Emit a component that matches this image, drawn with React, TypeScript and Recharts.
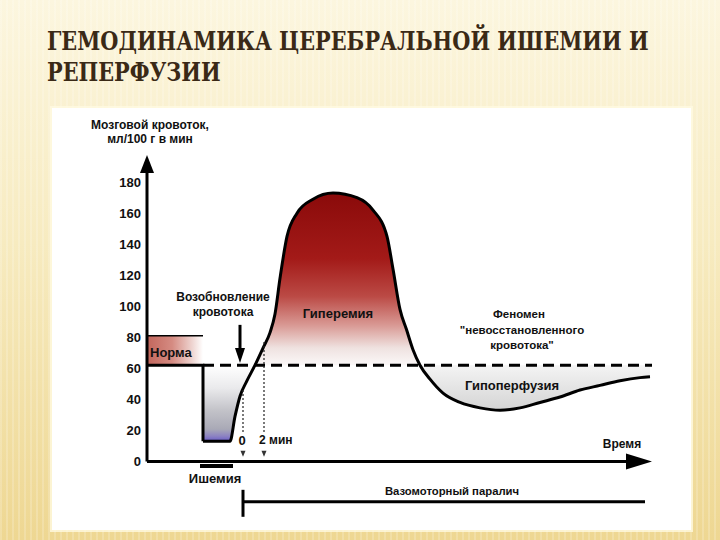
import React from "react";
import {
  ComposedChart,
  Line,
  Area,
  XAxis,
  YAxis,
  ReferenceLine,
  ReferenceDot,
} from "recharts";

const FONT = '"Liberation Sans", Arial, sans-serif';

// flow before the occlusion and the drop at its onset (ml/100 g/min)
const timeBefore = [0, 11.2, 11.2];
const flowBefore = [62, 62, 13];

// ischemia floor, reperfusion, hyperemia and hypoperfusion
const timeAfter = [
  11.2, 16.6, 17.6, 18.6, 20, 21.6, 23.2, 24.6, 25.6, 26.6, 28, 30, 33.2, 37.2,
  42, 45.2, 48, 49.2, 50.6, 51.9, 53.2, 54.6, 56.6, 59.2, 62.6, 66.6, 70.6,
  74.6, 78.6, 82.6, 86.6, 90.6, 94.6, 98.6, 100.6,
];
const flowAfter = [
  13, 13, 29, 42, 52, 62, 73, 83, 95, 118, 145, 160, 169, 173, 170, 162, 145,
  124, 98, 85, 72, 62, 53, 44, 38, 34.5, 33, 34.5, 38, 41.5, 46, 49, 52, 54,
  54.5,
];

const baseline = 62;
const normBand = [62, 81];
const yTicks = [0, 20, 40, 60, 80, 100, 120, 140, 160, 180];

const eventTimes = [19.2, 23.4];
const eventTops = [46, 78];
const eventLabels = ["0", "2 мин"];

const before = timeBefore.map((t, i) => ({ t, flow: flowBefore[i] }));
const after = timeAfter.map((t, i) => ({ t, flow: flowAfter[i] }));
const normFill = [
  { t: 0, band: normBand },
  { t: 11.2, band: normBand },
];
const ischemiaFill = after
  .filter((d) => d.t <= 21.6)
  .map((d) => ({ t: d.t, band: [d.flow, baseline] }));
const hyperFill = after
  .filter((d) => d.t >= 21.6 && d.t <= 54.6)
  .map((d) => ({ t: d.t, band: [baseline, d.flow] }));
const hypoFill = after
  .filter((d) => d.t >= 54.6)
  .map((d) => ({ t: d.t, band: [d.flow, baseline] }));

function txt(text: string, size = 12, weight = 700, anchor = "middle") {
  return (p: any) => (
    <text
      x={p.cx}
      y={p.cy}
      textAnchor={anchor}
      dominantBaseline="central"
      fontFamily={FONT}
      fontSize={size}
      fontWeight={weight}
      fill="#111"
    >
      {text}
    </text>
  );
}

const arrowUp = (p: any) => (
  <polygon points={`${p.cx},${p.cy} ${p.cx - 7},${p.cy + 18} ${p.cx + 7},${p.cy + 18}`} fill="#000" />
);
const arrowRight = (p: any) => (
  <polygon points={`${p.cx},${p.cy} ${p.cx - 26},${p.cy - 8} ${p.cx - 26},${p.cy + 8}`} fill="#000" />
);
const arrowDown = (p: any) => (
  <polygon points={`${p.cx},${p.cy} ${p.cx - 5},${p.cy - 15} ${p.cx + 5},${p.cy - 15}`} fill="#000" />
);
const tinyDown = (p: any) => (
  <polygon points={`${p.cx},${p.cy} ${p.cx - 2.5},${p.cy - 6} ${p.cx + 2.5},${p.cy - 6}`} fill="#333" />
);

const seg = { stroke: "#000", strokeWidth: 3 };

export default function App() {
  return (
    <div
      style={{
        position: "absolute",
        left: 0,
        top: 0,
        width: 720,
        height: 540,
        overflow: "hidden",
        background:
          "repeating-linear-gradient(90deg, rgba(255,255,255,0.18) 0 2px, rgba(0,0,0,0) 2px 6px), linear-gradient(180deg, #fcf6df 0%, #f7ebc0 45%, #eed792 100%)",
      }}
    >
      <div
        style={{
          position: "absolute",
          left: 47,
          top: 26,
          fontFamily: '"DejaVu Serif", "Liberation Serif", serif',
          fontStretch: "condensed",
          fontWeight: 700,
          fontSize: 26,
          lineHeight: "31px",
          color: "#3a2916",
          transform: "scaleX(0.89)",
          transformOrigin: "left top",
          whiteSpace: "nowrap",
        }}
      >
        ГЕМОДИНАМИКА ЦЕРЕБРАЛЬНОЙ ИШЕМИИ И
        <br />
        РЕПЕРФУЗИИ
      </div>
      <div
        style={{
          position: "absolute",
          left: 52,
          top: 108,
          width: 639,
          height: 422,
          background: "#fff",
          boxShadow: "0 0 0 2px rgba(255,250,225,0.8)",
        }}
      />
      <div style={{ position: "absolute", left: 0, top: 0 }}>
        <ComposedChart
          width={720}
          height={540}
          margin={{ top: 89, right: 68, bottom: 1, left: 87 }}
        >
          <defs>
            <linearGradient id="hyper" x1="0" y1="0" x2="0" y2="1">
              <stop offset="0%" stopColor="#8a0a0a" />
              <stop offset="38%" stopColor="#a31a18" />
              <stop offset="60%" stopColor="#bb4a45" />
              <stop offset="77%" stopColor="#d99a95" />
              <stop offset="90%" stopColor="#efe2e0" />
              <stop offset="100%" stopColor="#fbf8f8" />
            </linearGradient>
            <linearGradient id="norm" x1="0" y1="0" x2="1" y2="0">
              <stop offset="0%" stopColor="#c2665c" />
              <stop offset="45%" stopColor="#d58b82" />
              <stop offset="80%" stopColor="#eed3cf" />
              <stop offset="100%" stopColor="#ffffff" />
            </linearGradient>
            <linearGradient id="isch" x1="0" y1="0" x2="0" y2="1">
              <stop offset="0%" stopColor="#ffffff" />
              <stop offset="30%" stopColor="#eaeaec" />
              <stop offset="60%" stopColor="#c2c2c8" />
              <stop offset="84%" stopColor="#a9a9b6" />
              <stop offset="93%" stopColor="#8d84c2" />
              <stop offset="100%" stopColor="#6a5cc8" />
            </linearGradient>
            <linearGradient id="hypo" x1="0" y1="0" x2="0" y2="1">
              <stop offset="0%" stopColor="#f4f4f4" />
              <stop offset="100%" stopColor="#d4d4d4" />
            </linearGradient>
          </defs>
          <XAxis type="number" dataKey="t" domain={[0, 101]} hide />
          <YAxis
            type="number"
            domain={[-50, 240]}
            ticks={yTicks}
            interval={0}
            width={60}
            axisLine={false}
            tickLine={false}
            tickSize={4}
            tickMargin={2}
            tick={{ fill: "#111", fontSize: 13, fontWeight: 700, fontFamily: FONT }}
          />

          <Area data={normFill} dataKey="band" type="linear" stroke="none" fill="url(#norm)" fillOpacity={1} isAnimationActive={false} />
          <Area data={ischemiaFill} dataKey="band" type="monotone" stroke="none" fill="url(#isch)" fillOpacity={1} isAnimationActive={false} />
          <Area data={hyperFill} dataKey="band" type="monotone" stroke="none" fill="url(#hyper)" fillOpacity={1} isAnimationActive={false} />
          <Area data={hypoFill} dataKey="band" type="monotone" stroke="none" fill="url(#hypo)" fillOpacity={1} isAnimationActive={false} />

          {/* axes */}
          <ReferenceLine segment={[{ x: 0, y: 0 }, { x: 0, y: 190 }]} {...seg} />
          <ReferenceDot x={0} y={197.5} shape={arrowUp} />
          <ReferenceLine segment={[{ x: 0, y: 0 }, { x: 96, y: 0 }]} {...seg} />
          <ReferenceDot x={101} y={0} shape={arrowRight} />

          {/* norm band upper edge and the normal level */}
          <ReferenceLine segment={[{ x: 0, y: normBand[1] }, { x: 11.2, y: normBand[1] }]} stroke="#000" strokeWidth={1.6} />
          <ReferenceLine
            segment={[{ x: 11.2, y: baseline }, { x: 101, y: baseline }]}
            stroke="#000"
            strokeWidth={3}
            strokeDasharray="11 6"
          />

          <Line data={before} dataKey="flow" type="linear" stroke="#000" strokeWidth={3} dot={false} activeDot={false} isAnimationActive={false} />
          <Line data={after} dataKey="flow" type="monotone" stroke="#000" strokeWidth={3} dot={false} activeDot={false} isAnimationActive={false} />

          {/* reperfusion markers */}
          {eventTimes.map((t, i) => (
            <ReferenceLine
              key={"ev" + i}
              segment={[{ x: t, y: 19 }, { x: t, y: eventTops[i] }]}
              stroke="#222"
              strokeWidth={1.2}
              strokeDasharray="2 2"
            />
          ))}
          {eventTimes.map((t, i) => (
            <ReferenceDot key={"ea" + i} x={t} y={3} shape={tinyDown} />
          ))}
          <ReferenceDot x={19} y={13.8} shape={txt(eventLabels[0], 13)} />
          <ReferenceDot x={22.4} y={13.8} shape={txt(eventLabels[1], 12, 700, "start")} />

          {/* resumption arrow */}
          <ReferenceLine segment={[{ x: 18.6, y: 88 }, { x: 18.6, y: 72 }]} {...seg} />
          <ReferenceDot x={18.6} y={63.5} shape={arrowDown} />

          {/* ischemia bar and vasomotor paralysis */}
          <ReferenceLine segment={[{ x: 10.6, y: -3 }, { x: 17.2, y: -3 }]} stroke="#000" strokeWidth={4} />
          <ReferenceLine segment={[{ x: 19.2, y: -26 }, { x: 99.6, y: -26 }]} {...seg} />
          <ReferenceLine segment={[{ x: 19.2, y: -18.3 }, { x: 19.2, y: -35.7 }]} {...seg} />

          {/* texts */}
          <ReferenceDot x={0.6} y={216.8} shape={txt("Мозговой кровоток,", 12)} />
          <ReferenceDot x={0.6} y={207.8} shape={txt("мл/100 г в мин", 12)} />
          <ReferenceDot x={15.2} y={106} shape={txt("Возобновление", 12)} />
          <ReferenceDot x={15.2} y={96.3} shape={txt("кровотока", 12)} />
          <ReferenceDot x={0.6} y={70.5} shape={txt("Норма", 13, 700, "start")} />
          <ReferenceDot x={38.2} y={95.6} shape={txt("Гиперемия", 13)} />
          <ReferenceDot x={74.4} y={95} shape={txt("Феномен", 11.5)} />
          <ReferenceDot x={75} y={84.7} shape={txt('"невосстановленного', 11.5)} />
          <ReferenceDot x={75} y={75} shape={txt('кровотока"', 11.5)} />
          <ReferenceDot x={73} y={49.2} shape={txt("Гипоперфузия", 13)} />
          <ReferenceDot x={95} y={11.2} shape={txt("Время", 12)} />
          <ReferenceDot x={13.6} y={-11.3} shape={txt("Ишемия", 13)} />
          <ReferenceDot x={61} y={-19} shape={txt("Вазомоторный паралич", 11.3)} />
        </ComposedChart>
      </div>
    </div>
  );
}
